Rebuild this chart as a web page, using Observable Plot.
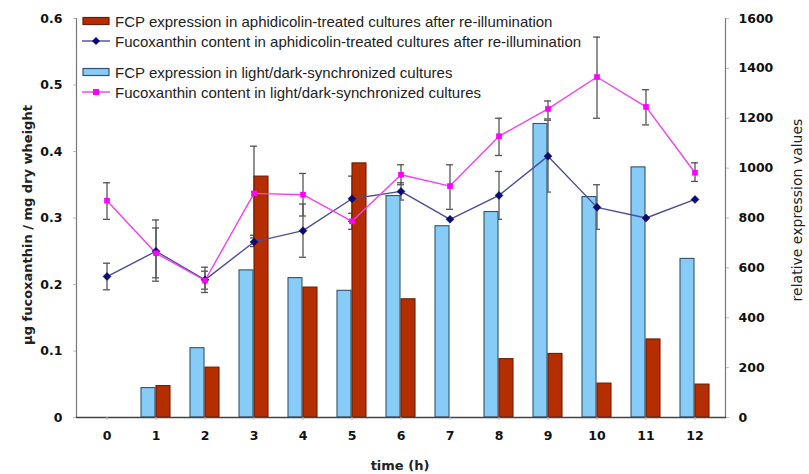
<!DOCTYPE html>
<html>
<head>
<meta charset="utf-8">
<script src="https://cdn.jsdelivr.net/npm/d3@7"></script>
<script src="https://cdn.jsdelivr.net/npm/@observablehq/plot@0.6"></script>
<style>
  html, body { margin: 0; padding: 0; background: #fff; }
  #wrap { position: relative; width: 809px; height: 474px; font-family: "Liberation Sans", Arial, sans-serif; overflow: hidden; }
  #legend { position: absolute; left: 82px; top: 11px; font-size: 15px; color: #222; }
  .li { display: flex; align-items: center; height: 20px; }
  .li svg { margin-right: 5px; }
  .ttl { position: absolute; color: #222; font-family: "DejaVu Sans", sans-serif; white-space: nowrap; }
</style>
</head>
<body>
<div id="wrap"></div>
<script>
const hours = [0,1,2,3,4,5,6,7,8,9,10,11,12];
// right axis (relative expression values)
const fcpLight = [null,118,278,590,559,508,888,767,824,1177,884,1003,636];
const fcpAphid = [null,126,200,966,521,1019,474,null,234,255,136,313,132];
// left axis (µg fucoxanthin / mg dry weight)
const fucoLight = [0.326,0.247,0.206,0.337,0.335,0.295,0.365,0.348,0.423,0.464,0.512,0.467,0.368];
const fucoLightLo = [0.298,0.210,0.193,0.270,0.303,0.283,0.350,0.313,0.394,0.449,0.450,0.440,0.355];
const fucoLightHi = [0.353,0.285,0.220,0.408,0.367,0.307,0.380,0.380,0.450,0.476,0.572,0.493,0.383];
const fucoAphid = [0.212,0.250,0.207,0.264,0.281,0.329,0.340,0.298,0.334,0.393,0.316,0.300,0.328];
const fucoAphidLo = [0.192,0.205,0.188,0.257,0.241,0.295,0.327,null,0.298,0.339,0.283,null,null];
const fucoAphidHi = [0.232,0.297,0.226,0.274,0.321,0.363,0.353,null,0.370,0.447,0.350,null,null];
const leftTicks = [0,0.1,0.2,0.3,0.4,0.5,0.6];
const rightTicks = [0,200,400,600,800,1000,1200,1400,1600];

const k = 0.6 / 1600;
const barsLight = hours.map((h,i) => ({h, v: fcpLight[i]})).filter(d => d.v != null);
const barsAphid = hours.map((h,i) => ({h, v: fcpAphid[i]})).filter(d => d.v != null);
const light = hours.map((h,i) => ({h, v: fucoLight[i], lo: fucoLightLo[i], hi: fucoLightHi[i]}));
const aphid = hours.map((h,i) => ({h, v: fucoAphid[i], lo: fucoAphidLo[i], hi: fucoAphidHi[i]}));
const errs = [...light, ...aphid].filter(d => d.lo != null);

const blueFill = "#86ccf6", blueStroke = "#34536e";
const redFill = "#b52e02", redStroke = "#6e1c03";
const magenta = "#f040f0", magentaDot = "#ff00ff";
const navy = "#4c4c9c", navyDot = "#0a0a70";
const errColor = "#555";
const tickFont = { fontSize: 12.5, fontWeight: "bold", fill: "#111", fontFamily: "DejaVu Sans, sans-serif" };

const chart = Plot.plot({
  width: 809, height: 474,
  marginLeft: 76, marginRight: 84, marginTop: 18, marginBottom: 57,
  style: { fontFamily: "DejaVu Sans, sans-serif", background: "#fff" },
  x: { type: "band", domain: hours, padding: 0 },
  y: { domain: [0, 0.6] },
  marks: [
    Plot.ruleX(errs, { x: "h", y1: "lo", y2: "hi", stroke: errColor, strokeWidth: 1.3 }),
    Plot.tickY(errs, { x: "h", y: "lo", stroke: errColor, strokeWidth: 1.3, insetLeft: 21, insetRight: 21 }),
    Plot.tickY(errs, { x: "h", y: "hi", stroke: errColor, strokeWidth: 1.3, insetLeft: 21, insetRight: 21 }),
    Plot.barY(barsLight, { x: "h", y: d => d.v * k, fill: blueFill, stroke: blueStroke, strokeWidth: 1.1, insetLeft: 10, insetRight: 25 }),
    Plot.barY(barsAphid, { x: "h", y: d => d.v * k, fill: redFill, stroke: redStroke, strokeWidth: 1.1, insetLeft: 25, insetRight: 10 }),
    Plot.line(aphid, { x: "h", y: "v", stroke: navy, strokeWidth: 1.4 }),
    Plot.line(light, { x: "h", y: "v", stroke: magenta, strokeWidth: 1.4 }),
    Plot.dot(aphid, { x: "h", y: "v", symbol: "diamond2", r: 3.6, fill: navyDot, stroke: navyDot, strokeWidth: 0.5 }),
    Plot.dot(light, { x: "h", y: "v", symbol: "square", r: 3.2, fill: magentaDot }),
    Plot.frame({ anchor: "left", stroke: "#777", strokeWidth: 1.2 }),
    Plot.frame({ anchor: "right", stroke: "#777", strokeWidth: 1.2 }),
    Plot.frame({ anchor: "bottom", stroke: "#444", strokeWidth: 1.4 }),
    Plot.axisY({ anchor: "left", ticks: leftTicks, tickFormat: d => d === 0 ? "0" : String(d), tickSize: 3, tickPadding: 11, stroke: "#bbb", ...tickFont, label: null }),
    Plot.axisY({ anchor: "right", ticks: rightTicks.map(t => t * k), tickFormat: d => String(Math.round(d / k)), tickSize: 3, tickPadding: 10, stroke: "#bbb", ...tickFont, label: null }),
    Plot.axisX({ tickSize: 3, tickPadding: 11, stroke: "#bbb", ...tickFont, label: null })
  ]
});

const wrap = document.getElementById("wrap");
wrap.appendChild(chart);

const legendItems = [
  { label: "FCP expression in aphidicolin-treated cultures after re-illumination", kind: "bar", fill: redFill, stroke: redStroke },
  { label: "Fucoxanthin content in aphidicolin-treated cultures after re-illumination", kind: "line", color: navy, dot: navyDot, sym: "diamond" },
  { gap: true },
  { label: "FCP expression in light/dark-synchronized cultures", kind: "bar", fill: blueFill, stroke: blueStroke },
  { label: "Fucoxanthin content in light/dark-synchronized cultures", kind: "line", color: magenta, dot: magentaDot, sym: "square" }
];
const legend = document.createElement("div");
legend.id = "legend";
for (const it of legendItems) {
  const row = document.createElement("div");
  if (it.gap) { row.style.height = "11px"; legend.appendChild(row); continue; }
  row.className = "li";
  let sw;
  if (it.kind === "bar") {
    sw = `<svg width="28" height="12"><rect x="1" y="2.5" width="26" height="7" fill="${it.fill}" stroke="${it.stroke}" stroke-width="1.2"/></svg>`;
  } else {
    const m = it.sym === "square"
      ? `<rect x="11" y="3" width="6" height="6" fill="${it.dot}"/>`
      : `<path d="M14 2 L18 6 L14 10 L10 6 Z" fill="${it.dot}"/>`;
    sw = `<svg width="28" height="12"><line x1="0" y1="6" x2="28" y2="6" stroke="${it.color}" stroke-width="1.4"/>${m}</svg>`;
  }
  row.innerHTML = sw + `<span>${it.label}</span>`;
  legend.appendChild(row);
}
wrap.appendChild(legend);

function title(text, x, y, rot, bold, size) {
  const t = document.createElement("div");
  t.className = "ttl";
  t.textContent = text;
  t.style.left = x + "px"; t.style.top = y + "px";
  t.style.fontSize = size + "px";
  t.style.fontWeight = bold ? "bold" : "normal";
  t.style.transform = `translate(-50%,-50%) rotate(${rot}deg)`;
  wrap.appendChild(t);
}
title("µg fucoxanthin / mg dry wheight", 27, 225, -90, true, 13);
title("relative expression values", 797, 210, -90, false, 14);
title("time (h)", 400, 465, 0, true, 13);
</script>
</body>
</html>
